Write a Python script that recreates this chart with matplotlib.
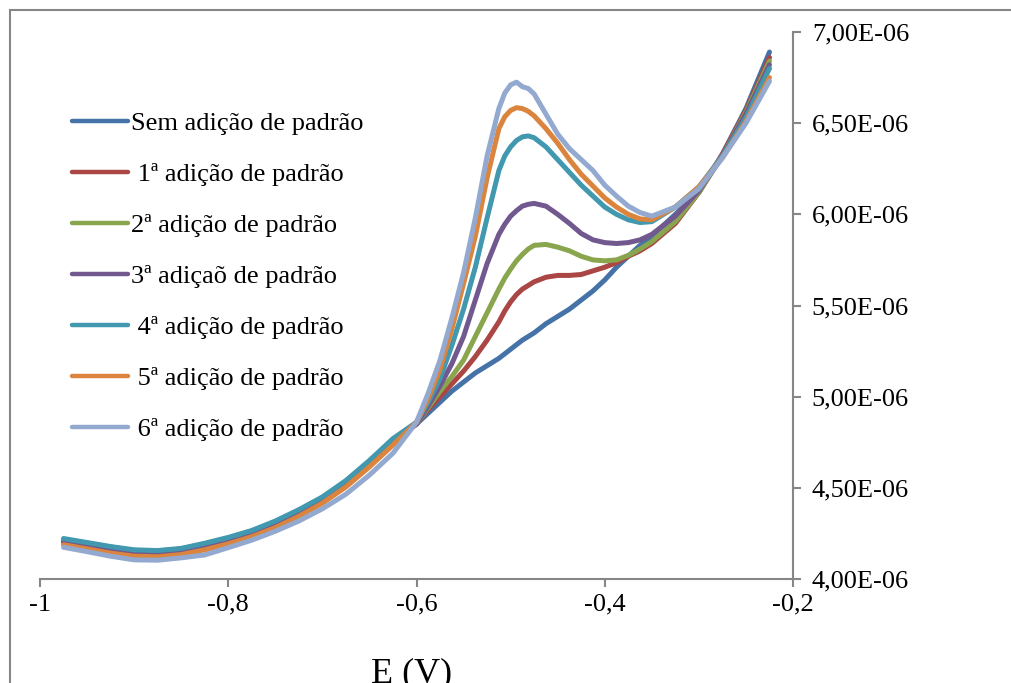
import numpy as np
import matplotlib
matplotlib.use("Agg")
import matplotlib.pyplot as plt
from matplotlib.patches import Rectangle

# === dados (corrente em unidades de 1E-06) ===
E = [-0.975, -0.95, -0.925, -0.9, -0.875, -0.85, -0.825, -0.8, -0.775, -0.75,
     -0.725, -0.7, -0.675, -0.65, -0.625,
     -0.6, -0.5875, -0.575, -0.5625, -0.55, -0.5375, -0.525, -0.5125, -0.50625,
     -0.5, -0.49375, -0.4875, -0.48125, -0.475, -0.4625, -0.45, -0.4375,
     -0.425, -0.4125, -0.4, -0.3875, -0.375, -0.3625, -0.35,
     -0.325, -0.3, -0.275, -0.25, -0.225]

sem_adicao = [4.215, 4.195, 4.172, 4.155, 4.150, 4.162, 4.190, 4.222, 4.262, 4.312,
              4.375, 4.445, 4.535, 4.645, 4.760,
              4.85, 4.91, 4.97, 5.03, 5.08, 5.13, 5.17, 5.21, 5.235,
              5.26, 5.285, 5.31, 5.33, 5.35, 5.40, 5.44, 5.48,
              5.53, 5.58, 5.64, 5.71, 5.77, 5.83, 5.88,
              6.00, 6.12, 6.33, 6.58, 6.89]

adicao_1 = [4.205, 4.185, 4.163, 4.145, 4.142, 4.154, 4.182, 4.214, 4.252, 4.302,
            4.365, 4.437, 4.527, 4.635, 4.755,
            4.85, 4.93, 5.00, 5.07, 5.14, 5.22, 5.31, 5.41, 5.47,
            5.52, 5.56, 5.59, 5.61, 5.63, 5.655, 5.665, 5.665,
            5.67, 5.69, 5.71, 5.735, 5.77, 5.80, 5.84,
            5.95, 6.12, 6.33, 6.57, 6.86]

adicao_2 = [4.218, 4.197, 4.175, 4.157, 4.153, 4.165, 4.193, 4.225, 4.263, 4.314,
            4.376, 4.446, 4.536, 4.645, 4.765,
            4.85, 4.94, 5.03, 5.11, 5.20, 5.33, 5.46, 5.59, 5.65,
            5.70, 5.745, 5.78, 5.81, 5.83, 5.835, 5.82, 5.80,
            5.77, 5.75, 5.745, 5.75, 5.775, 5.81, 5.85,
            5.96, 6.12, 6.32, 6.56, 6.84]

adicao_3 = [4.200, 4.178, 4.155, 4.137, 4.134, 4.146, 4.174, 4.206, 4.244, 4.295,
            4.357, 4.428, 4.518, 4.628, 4.750,
            4.85, 4.95, 5.06, 5.18, 5.33, 5.53, 5.73, 5.89, 5.945,
            5.99, 6.02, 6.045, 6.055, 6.06, 6.045, 6.00, 5.95,
            5.895, 5.86, 5.845, 5.84, 5.845, 5.86, 5.89,
            5.99, 6.13, 6.32, 6.55, 6.82]

adicao_4 = [4.222, 4.200, 4.178, 4.160, 4.156, 4.168, 4.196, 4.228, 4.266, 4.318,
            4.380, 4.450, 4.540, 4.650, 4.770,
            4.86, 4.97, 5.10, 5.28, 5.48, 5.71, 5.98, 6.24, 6.32,
            6.37, 6.405, 6.425, 6.43, 6.42, 6.37, 6.30, 6.23,
            6.16, 6.10, 6.04, 6.00, 5.97, 5.955, 5.96,
            6.04, 6.15, 6.32, 6.53, 6.80]

adicao_5 = [4.188, 4.165, 4.142, 4.125, 4.122, 4.134, 4.160, 4.193, 4.232, 4.282,
            4.344, 4.416, 4.505, 4.615, 4.735,
            4.86, 4.99, 5.15, 5.37, 5.62, 5.88, 6.20, 6.47, 6.535,
            6.57, 6.585, 6.58, 6.565, 6.54, 6.47, 6.39, 6.30,
            6.22, 6.155, 6.09, 6.04, 6.00, 5.975, 5.97,
            6.04, 6.15, 6.31, 6.51, 6.75]

adicao_6 = [4.174, 4.150, 4.125, 4.105, 4.103, 4.116, 4.132, 4.172, 4.213, 4.262,
            4.318, 4.385, 4.465, 4.570, 4.690,
            4.86, 5.02, 5.20, 5.43, 5.68, 5.98, 6.32, 6.58, 6.665,
            6.71, 6.725, 6.70, 6.69, 6.66, 6.55, 6.44, 6.36,
            6.30, 6.24, 6.16, 6.10, 6.045, 6.01, 5.99,
            6.04, 6.14, 6.31, 6.50, 6.73]

series = [sem_adicao, adicao_1, adicao_2, adicao_3, adicao_4, adicao_5, adicao_6]
labels = ['Sem adição de padrão', ' 1ª adição de padrão', '2ª adição de padrão',
          '3ª adiçaõ de padrão', ' 4ª adição de padrão', ' 5ª adição de padrão',
          ' 6ª adição de padrão']
cores = ['#4572A7', '#AA4643', '#89A54E', '#71588F', '#4198AF', '#DB843D', '#93A9CF']

x_ticks = [-1, -0.8, -0.6, -0.4, -0.2]
x_tick_labels = ['-1', '-0,8', '-0,6', '-0,4', '-0,2']
y_ticks = [4.0e-6, 4.5e-6, 5.0e-6, 5.5e-6, 6.0e-6, 6.5e-6, 7.0e-6]
y_tick_labels = ['4,00E-06', '4,50E-06', '5,00E-06', '5,50E-06',
                 '6,00E-06', '6,50E-06', '7,00E-06']

plt.rcParams['font.family'] = ['Liberation Serif', 'DejaVu Serif']
cinza = '#868686'

fig = plt.figure(figsize=(10.11, 6.83), dpi=100)
ax = fig.add_axes([40 / 1011, 104 / 683, 753 / 1011, 547 / 683])

for ys, lab, cor in zip(series, labels, cores):
    ax.plot(E, np.array(ys) * 1e-6, color=cor, lw=3.6, label=lab,
            solid_capstyle='round', solid_joinstyle='round')

ax.set_xlim(-1, -0.2)
ax.set_ylim(4.0e-6, 7.0e-6)
ax.set_xticks(x_ticks, x_tick_labels)
ax.set_yticks(y_ticks, y_tick_labels)
ax.yaxis.tick_right()

for s in ['left', 'top']:
    ax.spines[s].set_visible(False)
for s in ['bottom', 'right']:
    ax.spines[s].set_color(cinza)
    ax.spines[s].set_linewidth(1.5)
ax.tick_params(axis='both', colors=cinza, labelcolor='black', labelsize=19,
               length=5.5, width=1.5, direction='out')
ax.tick_params(axis='x', pad=5)
ax.tick_params(axis='y', pad=8)

leg = ax.legend(loc='upper left', bbox_to_anchor=(0.028, 0.874), frameon=False,
                fontsize=19, handlelength=2.15, handletextpad=0.1,
                labelspacing=1.045, borderaxespad=0)
for h in leg.get_lines():
    h.set_linewidth(3.2)

fig.text(412 / 1011, 1 / 683, 'E (V)', fontsize=26, ha='center', va='baseline')

# moldura do gráfico
fig.patches.append(Rectangle((9.5 / 1011, -0.1), 1.2, 1.1 - 10.5 / 683,
                             transform=fig.transFigure, fill=False,
                             edgecolor=cinza, lw=1.5))

fig.savefig('out.png', dpi=100)
